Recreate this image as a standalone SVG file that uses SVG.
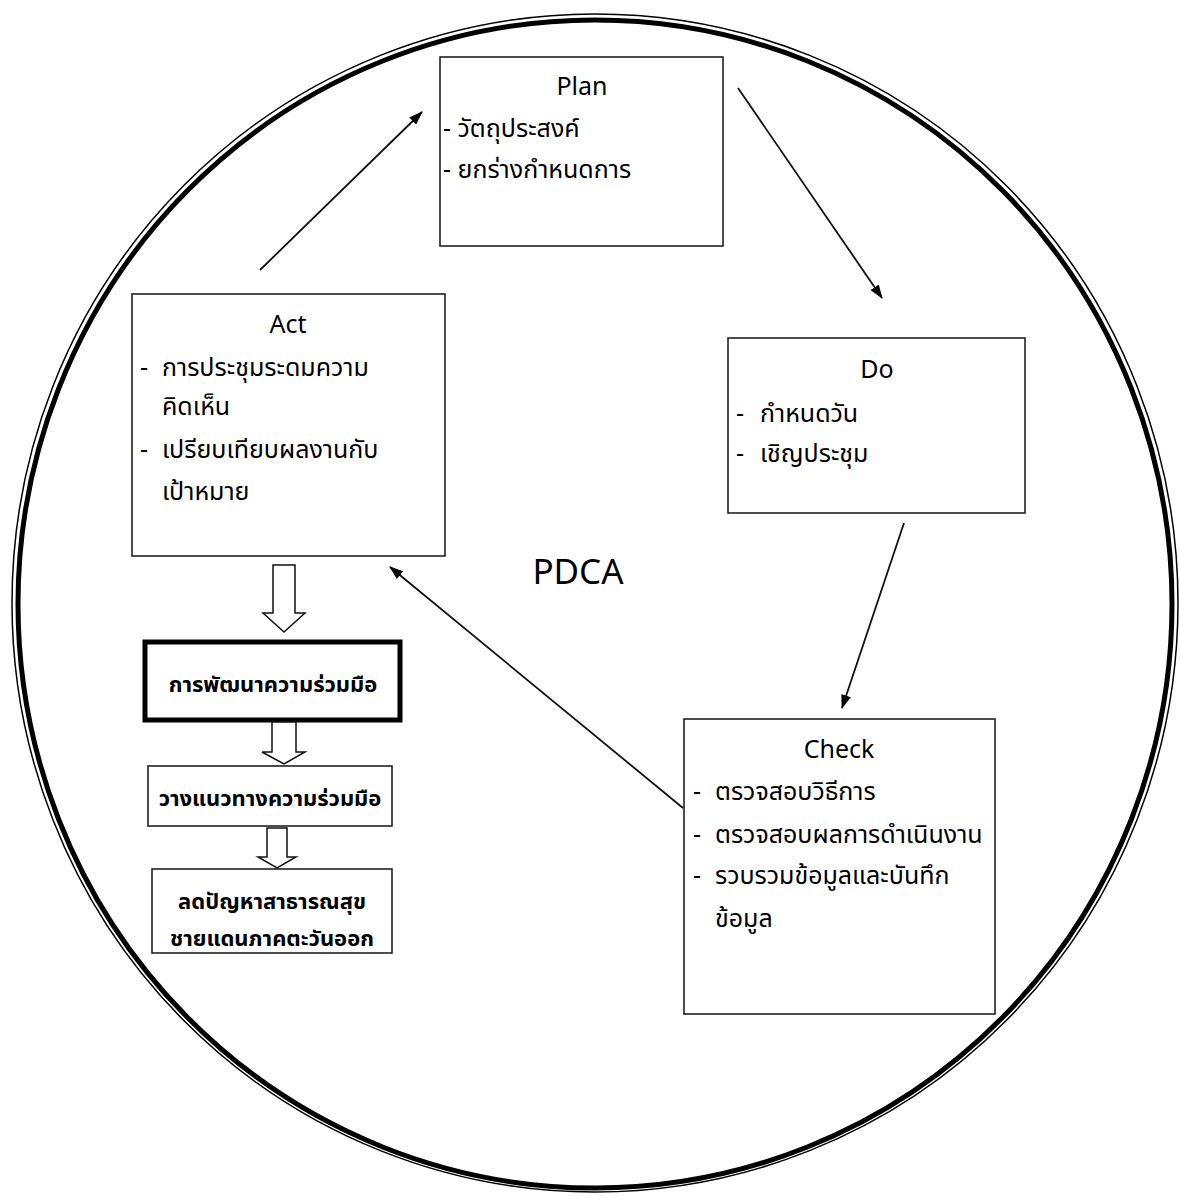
<svg xmlns="http://www.w3.org/2000/svg" width="1180" height="1196" viewBox="0 0 1180 1196">
<style>
.box{fill:#fff;stroke:#222;stroke-width:1.6}
.t{font-family:"Noto Sans Thai","Noto Sans","DejaVu Sans",sans-serif;font-size:25px;fill:#000}
.title{text-anchor:middle}
.b{font-weight:bold;text-anchor:middle;font-size:22px}
.conn{stroke:#111;stroke-width:1.8;fill:none}
.blk{fill:#fff;stroke:#111;stroke-width:1.5}
</style>
<defs>
<marker id="ah" viewBox="0 0 14 10" refX="13" refY="5" markerWidth="14" markerHeight="10" markerUnits="userSpaceOnUse" orient="auto">
<path d="M0,0 L14,5 L0,10 Z" fill="#000"/>
</marker>
</defs>
<rect width="1180" height="1196" fill="#fff"/>
<g id="circle">
<ellipse cx="595" cy="603" rx="583" ry="589" fill="none" stroke="#000" stroke-width="1.5"/>
<ellipse cx="595" cy="604" rx="577" ry="584" fill="none" stroke="#000" stroke-width="5"/>
</g>
<g id="plan">
<rect class="box" x="440" y="57" width="283" height="189"/>
<text class="t title" x="582" y="95">Plan</text>
<text class="t" x="443" y="137">- วัตถุประสงค์</text>
<text class="t" x="443" y="178">- ยกร่างกำหนดการ</text>
</g>
<g id="do">
<rect class="box" x="728" y="338" width="297" height="175"/>
<text class="t title" x="877" y="378">Do</text>
<text class="t" x="736" y="422">-</text>
<text class="t" x="760" y="422">กำหนดวัน</text>
<text class="t" x="736" y="462">-</text>
<text class="t" x="760" y="462">เชิญประชุม</text>
</g>
<g id="check">
<rect class="box" x="684" y="719" width="311" height="295"/>
<text class="t title" x="839" y="758">Check</text>
<text class="t" x="693" y="800">-</text>
<text class="t" x="715" y="800">ตรวจสอบวิธีการ</text>
<text class="t" x="693" y="843">-</text>
<text class="t" x="715" y="843">ตรวจสอบผลการดำเนินงาน</text>
<text class="t" x="693" y="884">-</text>
<text class="t" x="715" y="884">รวบรวมข้อมูลและบันทึก</text>
<text class="t" x="715" y="927">ข้อมูล</text>
</g>
<g id="act">
<rect class="box" x="132" y="294" width="313" height="262"/>
<text class="t title" x="288" y="333">Act</text>
<text class="t" x="140" y="376">-</text>
<text class="t" x="162" y="376">การประชุมระดมความ</text>
<text class="t" x="162" y="415">คิดเห็น</text>
<text class="t" x="140" y="458">-</text>
<text class="t" x="162" y="458">เปรียบเทียบผลงานกับ</text>
<text class="t" x="162" y="500">เป้าหมาย</text>
</g>
<g id="pdca">
<text class="t" x="578" y="584" text-anchor="middle" style="font-size:35px">PDCA</text>
</g>
<g id="develop">
<rect x="145" y="642" width="255" height="78" fill="#fff" stroke="#000" stroke-width="5"/>
<text class="t b" x="273" y="692">การพัฒนาความร่วมมือ</text>
</g>
<g id="guide">
<rect class="box" x="148" y="766" width="244" height="60"/>
<text class="t b" x="270" y="806">วางแนวทางความร่วมมือ</text>
</g>
<g id="reduce">
<rect class="box" x="152" y="869" width="240" height="84"/>
<text class="t b" x="272" y="909">ลดปัญหาสาธารณสุข</text>
<text class="t b" x="272" y="946">ชายแดนภาคตะวันออก</text>
</g>
<g id="connectors">
<line class="conn" x1="260" y1="270" x2="422" y2="112" marker-end="url(#ah)"/>
<line class="conn" x1="738" y1="88" x2="882" y2="298" marker-end="url(#ah)"/>
<line class="conn" x1="904" y1="523" x2="842" y2="708" marker-end="url(#ah)"/>
<line class="conn" x1="683" y1="808" x2="390" y2="567" marker-end="url(#ah)"/>
<path class="blk" d="M273,565 H295 V613 H305 L284,632 L263,613 H273 Z"/>
<path class="blk" d="M272,722 H296 V752 H305 L284,764 L262,752 H272 Z"/>
<path class="blk" d="M267,828 H287 V857 H296 L277,868 L258,857 H267 Z"/>
</g>
</svg>
